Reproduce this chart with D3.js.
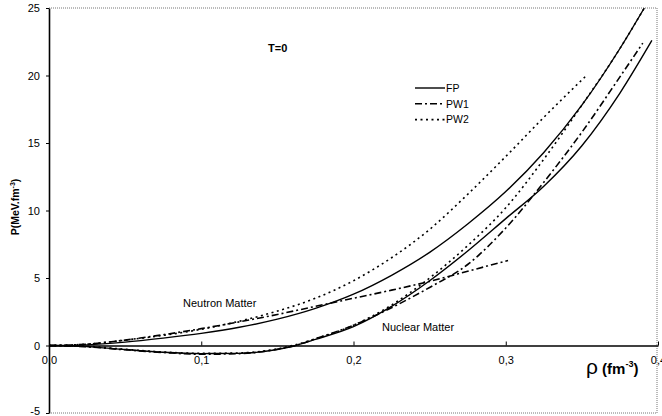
<!DOCTYPE html>
<html>
<head>
<meta charset="utf-8">
<script src="https://cdn.jsdelivr.net/npm/d3@7"></script>
<style>
  body { margin: 0; background: #fff; }
  svg { display: block; font-family: Arial, 'Liberation Sans', sans-serif; }
</style>
</head>
<body>
<div id="chart"></div>
<script>
// 数据：[rho (fm^-3), P (MeV.fm^-3)]
var neutronFP = [[0, 0], [0.025, 0.05], [0.05, 0.25], [0.075, 0.55], [0.1, 0.9], [0.125, 1.35], [0.15, 1.95],
  [0.175, 2.75], [0.2, 3.8], [0.225, 5.2], [0.25, 6.9], [0.275, 9.0], [0.3, 11.4], [0.325, 14.3],
  [0.35, 17.8], [0.375, 22.0], [0.391, 25.0]];
var neutronPW1 = [[0, 0], [0.025, 0.1], [0.05, 0.4], [0.075, 0.8], [0.1, 1.25], [0.125, 1.75], [0.15, 2.3],
  [0.175, 2.9], [0.2, 3.5], [0.225, 4.1], [0.25, 4.75], [0.275, 5.5], [0.3015, 6.3]];
var neutronPW2 = [[0, 0], [0.025, 0.1], [0.05, 0.4], [0.075, 0.75], [0.1, 1.2], [0.125, 1.8], [0.15, 2.55],
  [0.175, 3.5], [0.2, 4.8], [0.225, 6.5], [0.25, 8.6], [0.275, 11.2], [0.3, 14.0], [0.325, 16.9],
  [0.353, 20.0]];
var nuclearFP = [[0, 0], [0.025, -0.08], [0.05, -0.3], [0.075, -0.5], [0.1, -0.6], [0.125, -0.58],
  [0.15, -0.3], [0.162, 0], [0.175, 0.45], [0.2, 1.4], [0.225, 2.9], [0.25, 4.8], [0.275, 7.0],
  [0.3, 9.4], [0.325, 11.8], [0.35, 14.8], [0.375, 18.7], [0.396, 22.6]];
var nuclearPW1 = [[0, 0], [0.025, -0.1], [0.05, -0.32], [0.075, -0.52], [0.1, -0.65], [0.125, -0.6],
  [0.15, -0.28], [0.162, 0], [0.175, 0.5], [0.2, 1.5], [0.225, 2.8], [0.25, 4.3], [0.275, 6.0],
  [0.3, 8.7], [0.325, 12.1], [0.35, 15.8], [0.375, 19.9], [0.39, 22.4]];
var nuclearPW2 = [[0, 0], [0.025, -0.06], [0.05, -0.28], [0.075, -0.48], [0.1, -0.58], [0.125, -0.55],
  [0.15, -0.25], [0.16, 0], [0.175, 0.5], [0.2, 1.5], [0.225, 3.0], [0.25, 5.0], [0.275, 7.4],
  [0.3, 10.2], [0.325, 13.8], [0.35, 17.8], [0.375, 22.0], [0.391, 25.0]];

var xTicks = [0, 0.1, 0.2, 0.3, 0.4];
var xTickLabels = ['0,0', '0,1', '0,2', '0,3', '0,4'];
var yTicks = [-5, 0, 5, 10, 15, 20, 25];
var yTickLabels = ['-5', '0', '5', '10', '15', '20', '25'];

var legendNames = ['FP', 'PW1', 'PW2'];
var dashes = { FP: null, PW1: '7,3,2,3', PW2: '2,3.5' };

var series = [
  { name: 'FP', data: neutronFP }, { name: 'PW1', data: neutronPW1 }, { name: 'PW2', data: neutronPW2 },
  { name: 'FP', data: nuclearFP }, { name: 'PW1', data: nuclearPW1 }, { name: 'PW2', data: nuclearPW2 }
];

var width = 662, height = 416;

var x = d3.scaleLinear().domain([0, 0.4]).range([49, 658]);
var y = d3.scaleLinear().domain([-5, 25]).range([413, 8]);

var svg = d3.select('#chart').append('svg')
  .attr('width', width)
  .attr('height', height);

// 虚线边框
svg.append('path')
  .attr('d', 'M' + x(0) + ',' + y(25) + 'H' + (x(0.4) - 1) + 'V' + y(-5) + 'H' + x(0))
  .attr('fill', 'none')
  .attr('stroke', '#777')
  .attr('stroke-width', 1)
  .attr('stroke-dasharray', '1,1');

// 坐标轴
var yAxis = svg.append('g')
  .attr('transform', 'translate(' + x(0) + ',0)')
  .call(d3.axisLeft(y).tickValues(yTicks).tickSize(3).tickSizeOuter(0).tickPadding(6)
    .tickFormat(function(d, i) { return yTickLabels[i]; }));

var xAxis = svg.append('g')
  .attr('transform', 'translate(0,' + y(0) + ')')
  .call(d3.axisBottom(x).tickValues(xTicks).tickSize(-4).tickSizeOuter(0).tickPadding(11)
    .tickFormat(function(d, i) { return xTickLabels[i]; }));

[xAxis, yAxis].forEach(function(g) {
  g.select('.domain').attr('stroke', '#000').attr('stroke-width', 1.6);
  g.selectAll('.tick line').attr('stroke', '#000').attr('stroke-width', 1);
  g.selectAll('.tick text').attr('font-size', 11).attr('fill', '#000')
    .attr('font-family', 'Arial, Liberation Sans, sans-serif');
});
xAxis.selectAll('.tick').filter(function(d) { return d === 0; }).select('line').remove();
// 底部 -5 稍微上移，避免被裁掉
yAxis.selectAll('.tick').filter(function(d) { return d === -5; }).select('text').attr('dy', '0.1em');

// 曲线
var line = d3.line()
  .x(function(d) { return x(d[0]); })
  .y(function(d) { return y(d[1]); })
  .curve(d3.curveMonotoneX);

svg.selectAll('.curve')
  .data(series)
  .enter()
  .append('path')
  .attr('class', 'curve')
  .attr('d', function(d) { return line(d.data); })
  .attr('fill', 'none')
  .attr('stroke', '#000')
  .attr('stroke-width', function(d) { return d.name === 'FP' ? 1.4 : 1.6; })
  .attr('stroke-dasharray', function(d) { return dashes[d.name]; });

// 图例
var legend = svg.selectAll('.legend')
  .data(legendNames)
  .enter()
  .append('g')
  .attr('class', 'legend')
  .attr('transform', function(d, i) { return 'translate(415,' + (88 + i * 15.8) + ')'; });

legend.append('line')
  .attr('x1', 0).attr('x2', 30)
  .attr('stroke', '#000')
  .attr('stroke-width', function(d) { return d === 'FP' ? 1.4 : 1.6; })
  .attr('stroke-dasharray', function(d) { return dashes[d]; });

legend.append('text')
  .attr('x', 31)
  .attr('dy', '0.36em')
  .attr('font-size', 10.5)
  .text(function(d) { return d; });

// 文字
svg.append('text')
  .attr('x', 268).attr('y', 52)
  .attr('font-size', 11).attr('font-weight', 'bold')
  .text('T=0');

svg.append('text')
  .attr('x', 183).attr('y', 307)
  .attr('font-size', 11)
  .text('Neutron Matter');

svg.append('text')
  .attr('x', 382).attr('y', 331)
  .attr('font-size', 11)
  .text('Nuclear Matter');

var yTitle = svg.append('text')
  .attr('transform', 'translate(19,207) rotate(-90)')
  .attr('text-anchor', 'middle')
  .attr('font-size', 10.5).attr('font-weight', 'bold');
yTitle.append('tspan').text('P(MeV.fm');
yTitle.append('tspan').attr('font-size', 7).attr('dy', -4).text('-3');
yTitle.append('tspan').attr('dy', 4).text(')');

var xTitle = svg.append('text')
  .attr('x', 586).attr('y', 374)
  .attr('font-size', 15).attr('font-weight', 'bold');
xTitle.append('tspan').attr('font-size', 21).attr('font-weight', 'normal').text('ρ');
xTitle.append('tspan').text(' (fm');
xTitle.append('tspan').attr('font-size', 9).attr('dy', -7).text('-3');
xTitle.append('tspan').attr('dy', 7).text(')');
</script>
</body>
</html>
